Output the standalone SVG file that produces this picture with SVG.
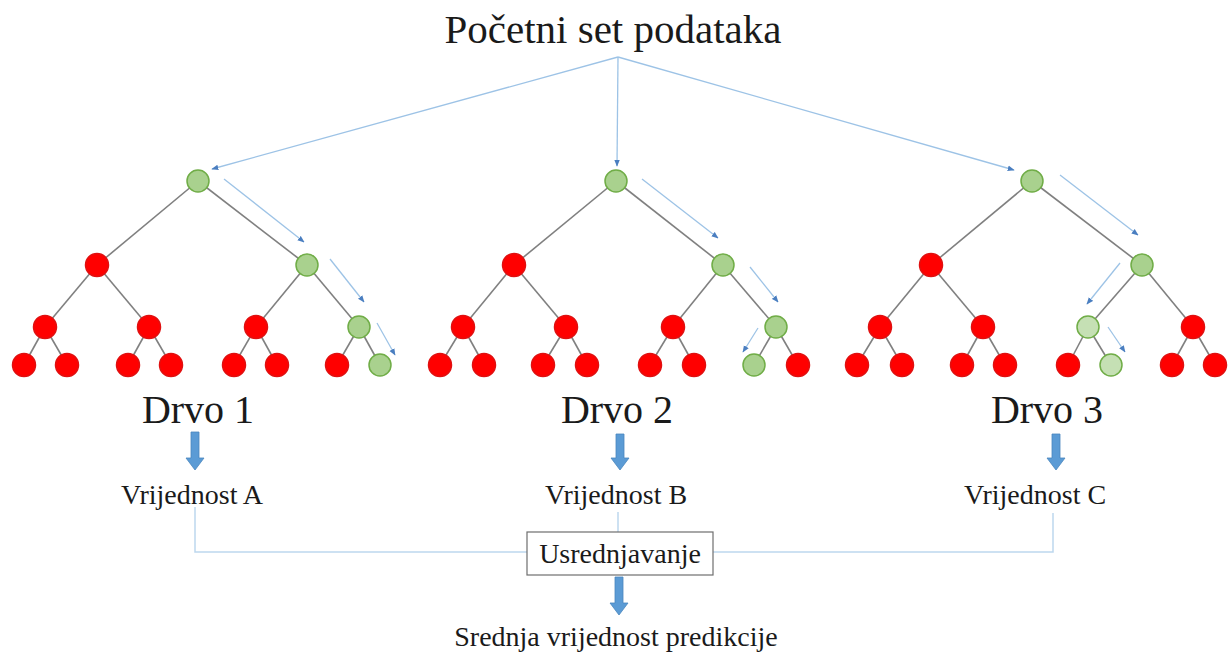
<svg xmlns="http://www.w3.org/2000/svg" width="1230" height="657" viewBox="0 0 1230 657">
<style>
  text { font-family: "Liberation Serif", "Times New Roman", serif; fill: #1a1a1a; text-anchor: middle; }
  .title { font-size: 41px; }
  .tree { font-size: 40px; }
  .val { font-size: 28px; }
  .edge { stroke: #808080; stroke-width: 1.6; fill: none; }
  .flow { stroke: #9DC3E6; stroke-width: 1.3; fill: none; marker-end: url(#ah); }
  .link { stroke: #BDD7EE; stroke-width: 1.5; fill: none; }
  .red { fill: #FF0000; stroke: #E01010; stroke-width: 1.5; }
  .grn { fill: #A9D18E; stroke: #70AD47; stroke-width: 1.5; }
  .lgr { fill: #C5E0B4; stroke: #70AD47; stroke-width: 1.5; }
  .fat { fill: #5B9BD5; stroke: #4A86BE; stroke-width: 0.8; }
</style>
<defs>
  <marker id="ah" viewBox="0 0 10 10" refX="9" refY="5" markerWidth="7" markerHeight="7" markerUnits="userSpaceOnUse" orient="auto">
    <path d="M0,1 L10,5 L0,9 Z" fill="#4A7EC0"/>
  </marker>
</defs>

<text id="title" class="title" x="613" y="43">Početni set podataka</text>

<g id="connectors">
  <line class="flow" x1="618" y1="57" x2="212" y2="169"/>
  <line class="flow" x1="618" y1="57" x2="617" y2="166"/>
  <line class="flow" x1="618" y1="57" x2="1014" y2="170"/>
  <line class="flow" x1="224" y1="179" x2="304" y2="242"/>
  <line class="flow" x1="330" y1="259" x2="364" y2="302"/>
  <line class="flow" x1="377" y1="323" x2="395" y2="355"/>
  <line class="flow" x1="642" y1="179" x2="718" y2="238"/>
  <line class="flow" x1="750" y1="267" x2="778" y2="302"/>
  <line class="flow" x1="758" y1="328" x2="743" y2="352"/>
  <line class="flow" x1="1060" y1="175" x2="1138" y2="235"/>
  <line class="flow" x1="1120" y1="263" x2="1087" y2="304"/>
  <line class="flow" x1="1108" y1="327" x2="1125" y2="352"/>
  <polyline class="link" points="195,507 195,552 527,552"/>
  <polyline class="link" points="1053,513 1053,552 713,552"/>
  <line class="link" x1="618" y1="512" x2="618" y2="532"/>
  <path class="fat" d="M191,432 H199 V458 H204 L195,470 L186,458 H191 Z"/>
  <path class="fat" d="M616,434 H624 V458 H629 L620,470 L611,458 H616 Z"/>
  <path class="fat" d="M1052,434 H1060 V458 H1065 L1056,470 L1047,458 H1052 Z"/>
  <path class="fat" d="M615,577 H623 V603 H628 L619,615 L610,603 H615 Z"/>
</g>

<g id="tree1">
  <g class="edges">
    <line class="edge" x1="198" y1="181" x2="97" y2="265"/>
    <line class="edge" x1="198" y1="181" x2="307" y2="265"/>
    <line class="edge" x1="97" y1="265" x2="45" y2="327"/>
    <line class="edge" x1="97" y1="265" x2="149" y2="327"/>
    <line class="edge" x1="307" y1="265" x2="256" y2="327"/>
    <line class="edge" x1="307" y1="265" x2="359" y2="327"/>
    <line class="edge" x1="45" y1="327" x2="24" y2="365"/>
    <line class="edge" x1="45" y1="327" x2="67" y2="365"/>
    <line class="edge" x1="149" y1="327" x2="128" y2="365"/>
    <line class="edge" x1="149" y1="327" x2="171" y2="365"/>
    <line class="edge" x1="256" y1="327" x2="234" y2="365"/>
    <line class="edge" x1="256" y1="327" x2="277" y2="365"/>
    <line class="edge" x1="359" y1="327" x2="337" y2="365"/>
    <line class="edge" x1="359" y1="327" x2="380" y2="365"/>
  </g>
  <circle class="grn" cx="198" cy="181" r="11"/>
  <circle class="red" cx="97" cy="265" r="11.5"/>
  <circle class="grn" cx="307" cy="265" r="11"/>
  <circle class="red" cx="45" cy="327" r="11.5"/>
  <circle class="red" cx="149" cy="327" r="11.5"/>
  <circle class="red" cx="256" cy="327" r="11.5"/>
  <circle class="grn" cx="359" cy="327" r="11"/>
  <circle class="red" cx="24" cy="365" r="11.5"/>
  <circle class="red" cx="67" cy="365" r="11.5"/>
  <circle class="red" cx="128" cy="365" r="11.5"/>
  <circle class="red" cx="171" cy="365" r="11.5"/>
  <circle class="red" cx="234" cy="365" r="11.5"/>
  <circle class="red" cx="277" cy="365" r="11.5"/>
  <circle class="red" cx="337" cy="365" r="11.5"/>
  <circle class="grn" cx="380" cy="365" r="11"/>
  <text class="tree" x="198" y="423">Drvo 1</text>
</g>

<g id="tree2">
  <g class="edges">
    <line class="edge" x1="616" y1="181" x2="514" y2="265"/>
    <line class="edge" x1="616" y1="181" x2="723" y2="265"/>
    <line class="edge" x1="514" y1="265" x2="463" y2="327"/>
    <line class="edge" x1="514" y1="265" x2="566" y2="327"/>
    <line class="edge" x1="723" y1="265" x2="673" y2="327"/>
    <line class="edge" x1="723" y1="265" x2="776" y2="327"/>
    <line class="edge" x1="463" y1="327" x2="440" y2="365"/>
    <line class="edge" x1="463" y1="327" x2="484" y2="365"/>
    <line class="edge" x1="566" y1="327" x2="543" y2="365"/>
    <line class="edge" x1="566" y1="327" x2="587" y2="365"/>
    <line class="edge" x1="673" y1="327" x2="650" y2="365"/>
    <line class="edge" x1="673" y1="327" x2="694" y2="365"/>
    <line class="edge" x1="776" y1="327" x2="754" y2="365"/>
    <line class="edge" x1="776" y1="327" x2="798" y2="365"/>
  </g>
  <circle class="grn" cx="616" cy="181" r="11"/>
  <circle class="red" cx="514" cy="265" r="11.5"/>
  <circle class="grn" cx="723" cy="265" r="11"/>
  <circle class="red" cx="463" cy="327" r="11.5"/>
  <circle class="red" cx="566" cy="327" r="11.5"/>
  <circle class="red" cx="673" cy="327" r="11.5"/>
  <circle class="grn" cx="776" cy="327" r="11"/>
  <circle class="red" cx="440" cy="365" r="11.5"/>
  <circle class="red" cx="484" cy="365" r="11.5"/>
  <circle class="red" cx="543" cy="365" r="11.5"/>
  <circle class="red" cx="587" cy="365" r="11.5"/>
  <circle class="red" cx="650" cy="365" r="11.5"/>
  <circle class="red" cx="694" cy="365" r="11.5"/>
  <circle class="grn" cx="754" cy="365" r="11"/>
  <circle class="red" cx="798" cy="365" r="11.5"/>
  <text class="tree" x="617" y="423">Drvo 2</text>
</g>

<g id="tree3">
  <g class="edges">
    <line class="edge" x1="1032" y1="181" x2="931" y2="265"/>
    <line class="edge" x1="1032" y1="181" x2="1142" y2="265"/>
    <line class="edge" x1="931" y1="265" x2="880" y2="327"/>
    <line class="edge" x1="931" y1="265" x2="983" y2="327"/>
    <line class="edge" x1="1142" y1="265" x2="1088" y2="327"/>
    <line class="edge" x1="1142" y1="265" x2="1193" y2="327"/>
    <line class="edge" x1="880" y1="327" x2="857" y2="365"/>
    <line class="edge" x1="880" y1="327" x2="902" y2="365"/>
    <line class="edge" x1="983" y1="327" x2="962" y2="365"/>
    <line class="edge" x1="983" y1="327" x2="1005" y2="365"/>
    <line class="edge" x1="1088" y1="327" x2="1068" y2="365"/>
    <line class="edge" x1="1088" y1="327" x2="1111" y2="365"/>
    <line class="edge" x1="1193" y1="327" x2="1172" y2="365"/>
    <line class="edge" x1="1193" y1="327" x2="1215" y2="365"/>
  </g>
  <circle class="grn" cx="1032" cy="181" r="11"/>
  <circle class="red" cx="931" cy="265" r="11.5"/>
  <circle class="grn" cx="1142" cy="265" r="11"/>
  <circle class="red" cx="880" cy="327" r="11.5"/>
  <circle class="red" cx="983" cy="327" r="11.5"/>
  <circle class="lgr" cx="1088" cy="327" r="11"/>
  <circle class="red" cx="1193" cy="327" r="11.5"/>
  <circle class="red" cx="857" cy="365" r="11.5"/>
  <circle class="red" cx="902" cy="365" r="11.5"/>
  <circle class="red" cx="962" cy="365" r="11.5"/>
  <circle class="red" cx="1005" cy="365" r="11.5"/>
  <circle class="red" cx="1068" cy="365" r="11.5"/>
  <circle class="lgr" cx="1111" cy="365" r="11"/>
  <circle class="red" cx="1172" cy="365" r="11.5"/>
  <circle class="red" cx="1215" cy="365" r="11.5"/>
  <text class="tree" x="1047" y="423">Drvo 3</text>
</g>

<g id="valueA"><text class="val" x="192" y="504">Vrijednost A</text></g>
<g id="valueB"><text class="val" x="616" y="504">Vrijednost B</text></g>
<g id="valueC"><text class="val" x="1035" y="504">Vrijednost C</text></g>

<g id="average">
  <rect x="527" y="532" width="186" height="43" fill="#ffffff" stroke="#6E6E6E" stroke-width="1.2"/>
  <text class="val" x="620" y="563">Usrednjavanje</text>
</g>

<g id="result"><text class="val" x="616" y="646">Srednja vrijednost predikcije</text></g>
</svg>
